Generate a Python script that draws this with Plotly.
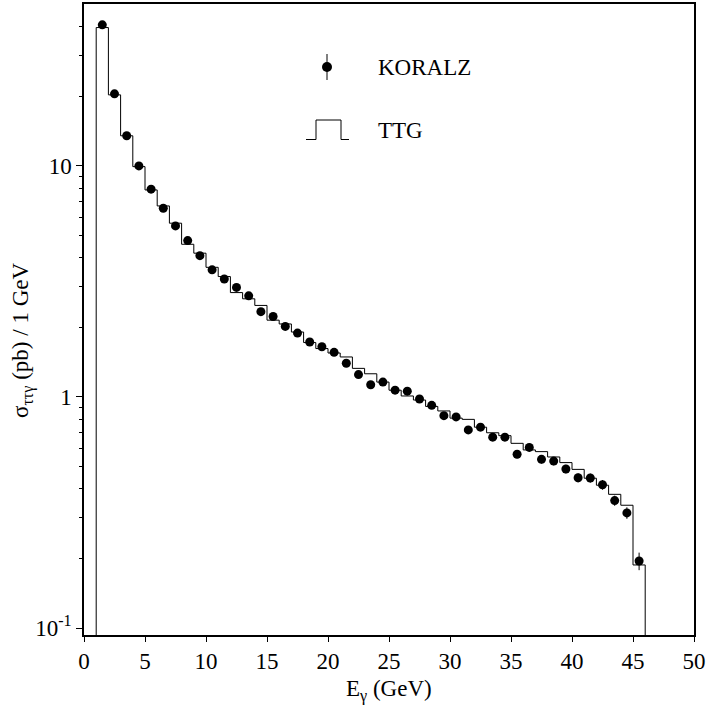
import plotly.graph_objects as go

# ---- data ----
e_centers = [1.5, 2.5, 3.5, 4.5, 5.5, 6.5, 7.5, 8.5, 9.5, 10.5,
             11.5, 12.5, 13.5, 14.5, 15.5, 16.5, 17.5, 18.5, 19.5, 20.5,
             21.5, 22.5, 23.5, 24.5, 25.5, 26.5, 27.5, 28.5, 29.5, 30.5,
             31.5, 32.5, 33.5, 34.5, 35.5, 36.5, 37.5, 38.5, 39.5, 40.5,
             41.5, 42.5, 43.5, 44.5, 45.5]
koralz = [40.8, 20.5, 13.5, 10.0, 7.93, 6.56, 5.50, 4.75, 4.09, 3.55,
          3.24, 2.98, 2.74, 2.34, 2.23, 2.02, 1.89, 1.73, 1.65, 1.56,
          1.40, 1.25, 1.13, 1.16, 1.07, 1.06, 0.98, 0.92, 0.83, 0.82,
          0.72, 0.74, 0.67, 0.67, 0.565, 0.605, 0.537, 0.528, 0.488, 0.447,
          0.446, 0.417, 0.356, 0.315, 0.195]
koralz_err = [0.4, 0.25, 0.18, 0.14, 0.12, 0.1, 0.09, 0.08, 0.07, 0.065,
              0.06, 0.055, 0.05, 0.045, 0.045, 0.04, 0.04, 0.038, 0.036, 0.035,
              0.033, 0.031, 0.029, 0.03, 0.028, 0.028, 0.027, 0.026, 0.025, 0.025,
              0.024, 0.025, 0.024, 0.024, 0.022, 0.024, 0.022, 0.022, 0.021, 0.02,
              0.02, 0.02, 0.018, 0.018, 0.017]
bin_edges = [1, 2, 3, 4, 5, 6, 7, 8, 9, 10, 11, 12, 13, 14, 15, 16, 17, 18, 19, 20,
             21, 22, 23, 24, 25, 26, 27, 28, 29, 30, 31, 32, 33, 34, 35, 36, 37, 38,
             39, 40, 41, 42, 43, 44, 45, 46]
ttg = [39.7, 20.3, 13.5, 9.93, 7.87, 6.71, 5.65, 4.58, 4.19, 3.64,
       3.32, 2.83, 2.66, 2.49, 2.15, 2.07, 1.91, 1.72, 1.62, 1.55,
       1.49, 1.33, 1.26, 1.16, 1.07, 1.01, 0.97, 0.91, 0.87, 0.81,
       0.80, 0.74, 0.70, 0.68, 0.63, 0.59, 0.58, 0.55, 0.52, 0.486,
       0.445, 0.415, 0.379, 0.340, 0.1875]

x_ticks = [0, 5, 10, 15, 20, 25, 30, 35, 40, 45, 50]
y_ticks = [0.1, 1, 10]
y_ticktext = ["10<sup>-1</sup>", "1", "10"]
y_minor = [0.2, 0.3, 0.4, 0.5, 0.6, 0.7, 0.8, 0.9,
           2, 3, 4, 5, 6, 7, 8, 9, 20, 30, 40]
y_min, y_max = 0.0933, 50.2

FONT = "Liberation Serif, Times New Roman, serif"
FS = 23

# histogram outline (step), starting and ending at the bottom of the frame
base = y_min / 10
hx = [bin_edges[0]] + bin_edges[:-1] + [bin_edges[-1], bin_edges[-1]]
hy = [base] + ttg + [ttg[-1], base]

fig = go.Figure()
fig.add_trace(go.Scatter(
    x=hx, y=hy, mode="lines", line=dict(shape="hv", color="black", width=1),
    showlegend=False, hoverinfo="skip"))
fig.add_trace(go.Scatter(
    x=e_centers, y=koralz, mode="markers",
    marker=dict(color="black", size=9, symbol="circle"),
    error_y=dict(type="data", array=koralz_err, color="black", thickness=1, width=0),
    showlegend=False))

# hand-drawn legend and titles (paper coordinates)
W, H = 708, 707
L, R, T, B = 84, 14, 4, 72
pw, ph = W - L - R, H - T - B


def px(xp):
    return (xp - L) / pw


def py(yp):
    return 1 - (yp - T) / ph


shapes = []
# KORALZ symbol: dot with vertical bar
shapes.append(dict(type="line", xref="paper", yref="paper",
                   x0=px(327), x1=px(327), y0=py(54), y1=py(80),
                   line=dict(color="black", width=1)))
shapes.append(dict(type="circle", xref="paper", yref="paper",
                   x0=px(322), x1=px(332), y0=py(72), y1=py(62),
                   fillcolor="black", line=dict(color="black", width=0)))
# TTG symbol: pulse
shapes.append(dict(type="path", xref="paper", yref="paper",
                   path=f"M {px(306)},{py(139.5)} L {px(316)},{py(139.5)} L {px(316)},{py(120)} "
                        f"L {px(341)},{py(120)} L {px(341)},{py(139.5)} L {px(349)},{py(139.5)}",
                   line=dict(color="black", width=1)))

annotations = [
    dict(text="KORALZ", xref="paper", yref="paper", x=px(376), y=py(67),
         xanchor="left", yanchor="middle", showarrow=False,
         font=dict(family=FONT, size=FS, color="black")),
    dict(text="TTG", xref="paper", yref="paper", x=px(376), y=py(130),
         xanchor="left", yanchor="middle", showarrow=False,
         font=dict(family=FONT, size=FS, color="black")),
    dict(text="E<sub>γ</sub> (GeV)", xref="paper", yref="paper", x=px(389), y=py(690),
         xanchor="center", yanchor="middle", showarrow=False,
         font=dict(family=FONT, size=FS, color="black")),
    dict(text="σ<sub>ττγ</sub> (pb) / 1 GeV", xref="paper", yref="paper", x=px(22), y=py(341),
         xanchor="center", yanchor="middle", showarrow=False, textangle=-90,
         font=dict(family=FONT, size=FS, color="black")),
]

fig.update_layout(
    width=W, height=H,
    margin=dict(l=L, r=R, t=T, b=B, pad=0),
    paper_bgcolor="white", plot_bgcolor="white",
    font=dict(family=FONT, size=FS, color="black"),
    shapes=shapes, annotations=annotations,
    xaxis=dict(range=[0, 50], tickmode="array", tickvals=x_ticks,
               ticks="outside", ticklen=5, tickwidth=1, tickcolor="black",
               showline=True, linecolor="black", linewidth=1.5, mirror=True,
               showgrid=False, zeroline=False, automargin=False,
               tickfont=dict(family=FONT, size=FS)),
    yaxis=dict(type="log", range=[-1.0301, 1.7007], tickmode="array",
               tickvals=y_ticks, ticktext=y_ticktext,
               ticks="outside", ticklen=6, tickwidth=1, tickcolor="black",
               minor=dict(tickmode="array", tickvals=y_minor, ticks="outside",
                          ticklen=3, tickwidth=1, tickcolor="black", showgrid=False),
               showline=True, linecolor="black", linewidth=1.5, mirror=True,
               showgrid=False, zeroline=False, automargin=False,
               tickfont=dict(family=FONT, size=FS)),
)

fig.write_html("out.html",
               config={"displayModeBar": False},
               post_script="document.body.style.margin='0';document.body.style.overflow='hidden';")
